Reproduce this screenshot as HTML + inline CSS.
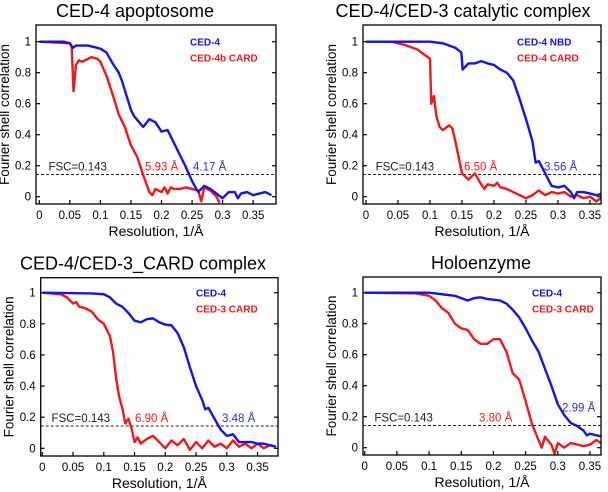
<!DOCTYPE html>
<html><head><meta charset="utf-8"><style>
html,body{margin:0;padding:0;background:#fff;}
svg{display:block;font-family:"Liberation Sans",Arial,sans-serif;}
</style></head><body>
<svg id="fig" width="608" height="492" viewBox="0 0 608 492" xmlns="http://www.w3.org/2000/svg"></svg>
<script>
// ---- data ----
const p1BlueX=[0,0.04,0.05,0.055,0.06,0.08,0.1,0.11,0.12,0.13,0.135,0.15,0.155,0.17,0.18,0.19,0.2,0.21,0.22,0.23,0.24,0.25,0.26,0.27,0.28,0.29,0.3,0.31,0.32,0.325,0.33,0.34,0.35,0.36,0.37,0.38];
const p1BlueY=[1,1,0.99,0.96,0.975,0.975,0.955,0.93,0.86,0.8,0.75,0.56,0.52,0.45,0.5,0.48,0.42,0.43,0.35,0.27,0.19,0.1,0.03,0.07,0.05,0.02,-0.01,0.03,0.03,-0.01,0.02,0.03,0.01,0.02,0.03,0.01];
const p1RedX=[0,0.05,0.053,0.056,0.06,0.065,0.07,0.08,0.085,0.095,0.1,0.11,0.12,0.13,0.14,0.15,0.16,0.17,0.18,0.185,0.19,0.2,0.205,0.21,0.215,0.22,0.23,0.24,0.25,0.26,0.265,0.27,0.28,0.29,0.295];
const p1RedY=[1,0.99,0.97,0.68,0.85,0.88,0.87,0.89,0.9,0.89,0.87,0.78,0.66,0.53,0.45,0.33,0.26,0.14,0.03,0.01,0.05,0.03,0.06,0.02,0.06,0.05,0.05,0.06,0.05,0.04,-0.03,0.06,0.04,0,-0.04];
const p2BlueX=[0,0.1,0.12,0.14,0.149,0.151,0.16,0.17,0.18,0.19,0.2,0.21,0.22,0.23,0.24,0.25,0.26,0.265,0.27,0.28,0.29,0.3,0.31,0.32,0.325,0.33,0.34,0.35,0.36,0.37,0.38];
const p2BlueY=[1,1,0.99,0.96,0.93,0.82,0.86,0.86,0.875,0.86,0.85,0.82,0.8,0.75,0.63,0.5,0.36,0.22,0.23,0.15,0.07,0.06,0.07,0.03,-0.01,0.03,0.03,0.02,0.01,0.02,0.03];
const p2RedX=[0,0.04,0.06,0.08,0.09,0.1,0.102,0.106,0.11,0.115,0.12,0.13,0.135,0.14,0.145,0.15,0.16,0.17,0.18,0.185,0.19,0.2,0.205,0.21,0.22,0.23,0.25,0.26,0.27,0.28,0.29,0.3,0.31,0.32,0.33,0.34,0.35,0.36,0.37,0.38];
const p2RedY=[1,1,0.98,0.95,0.92,0.89,0.6,0.65,0.52,0.45,0.43,0.46,0.44,0.35,0.25,0.15,0.11,0.15,0.08,0.05,0.08,0.07,0.09,0.06,0.05,0.03,-0.01,0.01,0.04,0.01,0.03,0.02,0.03,0,0.01,-0.01,0,-0.03,0,0.01];
const p3BlueX=[0,0.08,0.1,0.11,0.12,0.13,0.14,0.15,0.16,0.17,0.18,0.19,0.2,0.21,0.22,0.23,0.24,0.25,0.26,0.265,0.27,0.28,0.29,0.3,0.31,0.32,0.33,0.34,0.35,0.36,0.37,0.38];
const p3BlueY=[1,0.995,0.99,0.97,0.93,0.91,0.87,0.82,0.81,0.83,0.835,0.81,0.795,0.79,0.74,0.65,0.52,0.4,0.31,0.25,0.26,0.19,0.12,0.08,0.09,0.04,0.04,0.04,0.03,0.03,0.02,0.01];
const p3RedX=[0,0.03,0.04,0.05,0.055,0.06,0.07,0.08,0.09,0.1,0.11,0.115,0.12,0.125,0.13,0.135,0.14,0.145,0.15,0.155,0.16,0.17,0.18,0.19,0.2,0.21,0.22,0.23,0.24,0.25,0.26,0.27,0.28,0.29,0.3,0.31,0.32,0.33,0.34,0.35,0.36,0.37,0.38];
const p3RedY=[1,0.99,0.97,0.93,0.94,0.91,0.9,0.88,0.83,0.8,0.72,0.62,0.45,0.33,0.26,0.16,0.19,0.13,0.04,0.07,0.03,0.06,0.08,0.04,0,0.05,0.02,0.06,-0.01,0.04,0,0.05,0.01,0.03,0,0.05,0.01,0.03,0,0.03,0,0.02,0.01];
const p4BlueX=[0,0.1,0.12,0.14,0.16,0.17,0.18,0.19,0.2,0.21,0.22,0.23,0.24,0.25,0.26,0.27,0.28,0.29,0.3,0.31,0.32,0.33,0.34,0.345,0.35,0.36,0.37,0.38];
const p4BlueY=[1,1,0.99,0.98,0.95,0.965,0.97,0.96,0.955,0.95,0.93,0.89,0.84,0.77,0.69,0.62,0.51,0.4,0.28,0.21,0.16,0.14,0.11,0.08,0.09,0.08,0.07,0.06];
const p4RedX=[0,0.08,0.1,0.11,0.12,0.13,0.14,0.15,0.16,0.17,0.18,0.19,0.2,0.21,0.22,0.23,0.24,0.25,0.26,0.27,0.275,0.28,0.29,0.295,0.3,0.31,0.32,0.33,0.34,0.35,0.36,0.37,0.38];
const p4RedY=[1,0.995,0.98,0.95,0.9,0.87,0.8,0.77,0.76,0.7,0.67,0.67,0.7,0.7,0.62,0.48,0.44,0.3,0.15,0.05,0,0.07,0.02,-0.04,0.03,0,0.03,0.02,0.01,0.02,0.05,0.02,0];
const xTickVals=[0,0.05,0.1,0.15,0.2,0.25,0.3,0.35];
const xTickLabels=["0","0.05","0.1","0.15","0.2","0.25","0.3","0.35"];
const yTickVals=[0,0.2,0.4,0.6,0.8,1];
const yTickLabels=["0","0.2","0.4","0.6","0.8","1"];
const fscValue=0.143;

const panels=[
 {name:"apoptosome",title:"CED-4 apoptosome",tx:135,box:[36,25,276,204],x0:39.3,xs:611,y0:196.7,y1:41.7,
  bx:p1BlueX,by:p1BlueY,rx:p1RedX,ry:p1RedY,lb:"CED-4",lr:"CED-4b CARD",lx:190,
  ar:"5.93 Å",arx:145,ab:"4.17 Å",abx:193,aby:0},
 {name:"catalytic",title:"CED-4/CED-3 catalytic complex",tx:463,box:[363,25,601,204],x0:366,xs:640,y0:196.7,y1:41.7,
  bx:p2BlueX,by:p2BlueY,rx:p2RedX,ry:p2RedY,lb:"CED-4 NBD",lr:"CED-4 CARD",lx:517,
  ar:"6.50 Å",arx:464,ab:"3.56 Å",abx:544,aby:0},
 {name:"card-complex",title:"CED-4/CED-3_CARD complex",tx:143,box:[40.7,277.7,278,456],x0:42.3,xs:615,y0:448.3,y1:292.7,
  bx:p3BlueX,by:p3BlueY,rx:p3RedX,ry:p3RedY,lb:"CED-4",lr:"CED-3 CARD",lx:196,
  ar:"6.90 Å",arx:135,ab:"3.48 Å",abx:222,aby:0},
 {name:"holoenzyme",title:"Holoenzyme",tx:481,box:[363,277,601,455],x0:364.7,xs:643.7,y0:447.7,y1:292.7,
  bx:p4BlueX,by:p4BlueY,rx:p4RedX,ry:p4RedY,lb:"CED-4",lr:"CED-3 CARD",lx:532,
  ar:"3.80 Å",arx:479,ab:"2.99 Å",abx:562,aby:10}
];
const NS="http://www.w3.org/2000/svg";
const svg=document.getElementById('fig');
function mk(tag,attrs,parent,txt){const e=document.createElementNS(NS,tag);for(const k in attrs)e.setAttribute(k,attrs[k]);if(txt!==undefined)e.textContent=txt;parent.appendChild(e);return e;}
panels.forEach(p=>{
 const g=mk('g',{},svg);
 
 
 const X=v=>p.x0+v*p.xs, Y=v=>p.y0-(p.y0-p.y1)*v;
 const [l,t,r,b]=p.box;
 const title=mk('text',{x:p.tx,y:t-8,'text-anchor':'middle','font-size':18,fill:'#000'},g,p.title);
 
 
 xTickVals.forEach((v,i)=>{
  const tk=mk('line',{x1:X(v),x2:X(v),y1:b,y2:b-4,stroke:'#000','stroke-width':1.2},g);
  
  
  const tl=mk('text',{x:X(v),y:b+15,'text-anchor':'middle','font-size':11.5,fill:'#000'},g,xTickLabels[i]);
  
  
 });
 yTickVals.forEach((v,i)=>{
  const tk=mk('line',{x1:l,x2:l+4,y1:Y(v),y2:Y(v),stroke:'#000','stroke-width':1.2},g);
  
  
  const tk2=mk('line',{x1:r,x2:r-4,y1:Y(v),y2:Y(v),stroke:'#000','stroke-width':1.2},g);
  
  
  const tl=mk('text',{x:l-5,y:Y(v)+4,'text-anchor':'end','font-size':11.5,fill:'#000'},g,yTickLabels[i]);
  
  
 });
 const yt=mk('text',{transform:`translate(${l-27},${(t+b)/2}) rotate(-90)`,'text-anchor':'middle','font-size':13.5,fill:'#000'},g,'Fourier shell correlation');
 
 
 const xt=mk('text',{x:(l+r)/2,y:b+32,'text-anchor':'middle','font-size':14,fill:'#000'},g,'Resolution, 1/Å');
 
 
 const fl=mk('line',{x1:l,x2:r,y1:Y(fscValue),y2:Y(fscValue),stroke:'#222','stroke-width':1,'stroke-dasharray':'3,2'},g);
 
 
 const ft=mk('text',{x:X(0.015),y:Y(fscValue)-4,'font-size':11.5,fill:'#222'},g,'FSC=0.143');
 
 
 const clipId='clip-'+p.name;
 const cp=mk('clipPath',{id:clipId},g);
 mk('rect',{x:l,y:t,width:r-l,height:b-t},cp);
 const red=mk('polyline',{points:p.rx.map((v,i)=>X(v)+','+Y(p.ry[i])).join(' '),fill:'none',stroke:'#f01818','stroke-width':2.4,'stroke-linejoin':'round','clip-path':`url(#${clipId})`},g);
 
 
 const blue=mk('polyline',{points:p.bx.map((v,i)=>X(v)+','+Y(p.by[i])).join(' '),fill:'none',stroke:'#1414e6','stroke-width':2.4,'stroke-linejoin':'round','clip-path':`url(#${clipId})`},g);
 
 
 const box=mk('rect',{x:l,y:t,width:r-l,height:b-t,fill:'none',stroke:'#000','stroke-width':1.3},g);
 
 
 const lb=mk('text',{x:p.lx,y:Y(1)+4,'font-size':10,'font-weight':'bold',fill:'#1414e6'},g,p.lb);
 
 
 const lr=mk('text',{x:p.lx,y:Y(1)+20,'font-size':10,'font-weight':'bold',fill:'#f01818'},g,p.lr);
 
 
 const ar=mk('text',{x:p.arx,y:Y(fscValue)-4,'font-size':11.5,fill:'#f01818'},g,p.ar);
 
 
 const ab=mk('text',{x:p.abx,y:Y(fscValue)-4-p.aby,'font-size':11.5,fill:'#3030d0'},g,p.ab);
 
 
});
</script>
</body></html>
